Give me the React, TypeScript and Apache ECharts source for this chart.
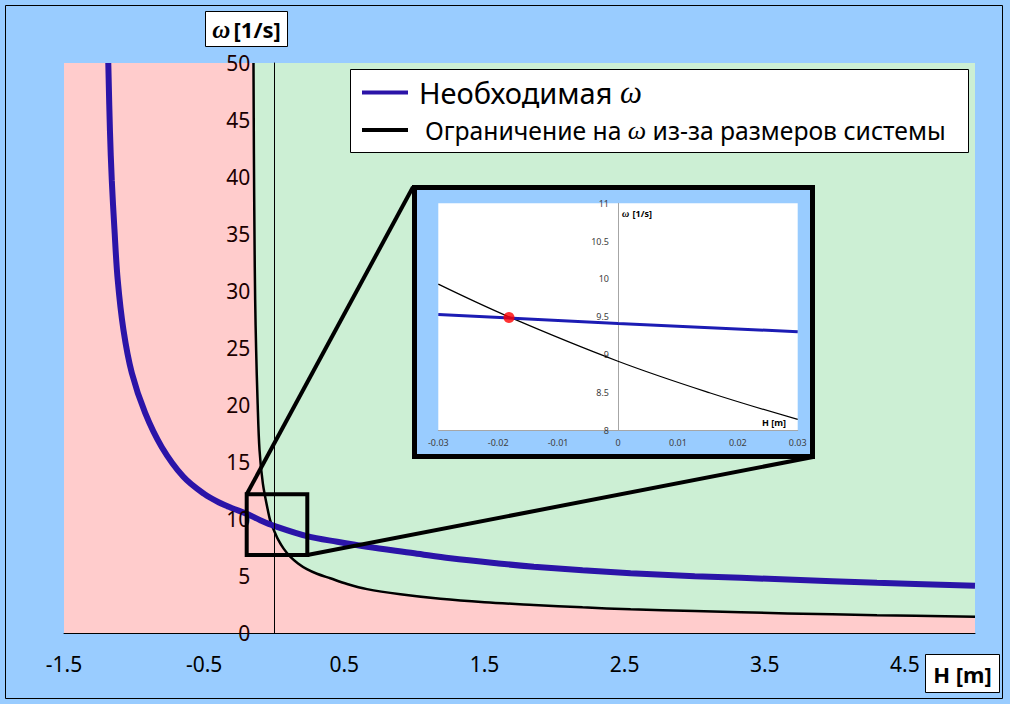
import React, { useEffect, useRef } from 'react';
import * as echarts from 'echarts';

// Main chart: required omega (blue)
const REQ_H = [-1.184, -1.172, -1.159, -1.14, -1.117, -1.076, -1.016, -0.921, -0.802, -0.648, -0.5, -0.386, -0.3, -0.195, -0.1, 0, 0.234, 0.45, 0.662, 1.0, 1.257, 1.6, 1.852, 2.2, 2.543, 3.0, 3.662, 4.3, 5.0];
const REQ_W = [50, 44, 39.7, 35.4, 31.0, 26.6, 22.8, 19.3, 16.3, 13.7, 12.2, 11.4, 10.95, 10.45, 9.9, 9.4, 8.5, 8.0, 7.57, 7.0, 6.55, 6.1, 5.82, 5.5, 5.25, 4.98, 4.7, 4.4, 4.15];

// Main chart: limit on omega (black)
const LIM_H = [-0.148, -0.145, -0.141, -0.136, -0.129, -0.119, -0.105, -0.081, -0.041, -0.03, -0.018, 0, 0.03, 0.067, 0.114, 0.17, 0.233, 0.305, 0.4, 0.52, 0.662, 0.9, 1.186, 1.5, 1.852, 2.2, 2.543, 3.0, 3.662, 4.3, 5.0];
const LIM_W = [50, 42, 35, 29.2, 24.8, 20.4, 16.05, 13.1, 10.5, 9.93, 9.49, 8.95, 8.14, 7.4, 6.7, 6.1, 5.6, 5.2, 4.8, 4.3, 3.85, 3.4, 3.0, 2.7, 2.46, 2.25, 2.08, 1.92, 1.72, 1.56, 1.43];

// Inset (zoom) chart
const INSET_REQ_H = [-0.03, 0, 0.03];
const INSET_REQ_W = [9.53, 9.41, 9.3];
const INSET_LIM_H = [-0.03, -0.018, 0, 0.0154, 0.03];
const INSET_LIM_W = [9.93, 9.49, 8.91, 8.49, 8.14];
const CROSS_H = [-0.0182];
const CROSS_W = [9.49];

const NAME_REQ = 'Необходимая ω';
const NAME_LIM = 'Ограничение на ω из-за размеров системы';

const zip = (a: number[], b: number[]) => a.map((v, i) => [v, b[i]]);

const SANS = 'Noto Sans';
const SERIF = 'Liberation Serif';

// main grid geometry
const G_LEFT = 64;
const G_WIDTH = 911;
const X_MIN = -1.5;
const X_MAX = 5;
// inset grid geometry
const IG_LEFT = 26.3;
const IG_WIDTH = 359.4;
const IX_MIN = -0.03;
const IX_MAX = 0.03;

export default function App() {
  const mainRef = useRef<HTMLDivElement>(null);
  const insetRef = useRef<HTMLDivElement>(null);

  useEffect(() => {
    const main = echarts.init(mainRef.current!, null, { renderer: 'svg' });
    const inset = echarts.init(insetRef.current!, null, { renderer: 'svg' });

    // shift the value axes so that they stand at H = 0
    const mainOffset = -((0 - X_MIN) / (X_MAX - X_MIN)) * G_WIDTH;
    const insetOffset = -((0 - IX_MIN) / (IX_MAX - IX_MIN)) * IG_WIDTH;

    main.setOption({
      animation: false,
      backgroundColor: '#99CCFF',
      grid: {
        left: G_LEFT, top: 63, width: G_WIDTH, height: 570,
        show: true, backgroundColor: '#FFCCCC', borderWidth: 0,
      },
      xAxis: {
        type: 'value', min: X_MIN, max: X_MAX, interval: 0.5, z: 5,
        axisLine: { show: true, onZero: false, lineStyle: { color: '#000', width: 1 } },
        axisTick: { show: false },
        splitLine: { show: false },
        axisLabel: {
          fontSize: 21, fontFamily: SANS, color: '#000', margin: 20,
          formatter: (v: number) => (Math.abs(Math.round(v * 2)) % 2 === 1 ? String(v) : ''),
        },
      },
      yAxis: {
        type: 'value', min: 0, max: 50, interval: 5, z: 5,
        position: 'left', offset: mainOffset,
        axisLine: { show: true, onZero: false, lineStyle: { color: '#000', width: 1 } },
        axisTick: { show: false },
        splitLine: { show: false },
        axisLabel: { fontSize: 21, fontFamily: SANS, color: '#1a0000', margin: 24 },
      },
      legend: [
        {
          data: [NAME_REQ], left: 362, top: 77, padding: 0,
          itemWidth: 46, itemHeight: 4, icon: 'rect', selectedMode: false,
          formatter: () => '{a|Необходимая }{ai|ω}',
          textStyle: {
            rich: {
              a: { fontSize: 29, fontFamily: SANS, color: '#000', lineHeight: 34, padding: [0, 0, 0, 6] },
              ai: { fontSize: 31, fontFamily: SERIF, fontStyle: 'italic', color: '#000', lineHeight: 34 },
            },
          },
        },
        {
          data: [NAME_LIM], left: 362, top: 117, padding: 0,
          itemWidth: 46, itemHeight: 4, icon: 'rect', selectedMode: false,
          formatter: () => '{p|}{b|Ограничение на }{bi|ω}{b| из-за размеров системы}',
          textStyle: {
            rich: {
              p: { width: 12, lineHeight: 28 },
              b: { fontSize: 24.7, fontFamily: SANS, color: '#000', lineHeight: 28 },
              bi: { fontSize: 26, fontFamily: SERIF, fontStyle: 'italic', color: '#000', lineHeight: 28 },
            },
          },
        },
      ],
      series: [
        {
          name: 'fill', type: 'line', data: zip(LIM_H, LIM_W), smooth: 0.35,
          showSymbol: false, silent: true, z: 1,
          lineStyle: { width: 0 },
          areaStyle: { color: '#CCEFD4', opacity: 1, origin: 'end' },
        },
        {
          name: NAME_LIM, type: 'line', data: zip(LIM_H, LIM_W), smooth: 0.35,
          showSymbol: false, z: 3,
          lineStyle: { color: '#000', width: 2.5 },
          itemStyle: { color: '#000' },
        },
        {
          name: NAME_REQ, type: 'line', data: zip(REQ_H, REQ_W), smooth: 0.35,
          showSymbol: false, z: 4,
          lineStyle: { color: '#2B14A8', width: 6 },
          itemStyle: { color: '#2B14A8' },
        },
      ],
      graphic: [
        {
          type: 'rect', z: 3, silent: true,
          shape: { x: 350.5, y: 69.5, width: 618, height: 83 },
          style: { fill: '#fff', stroke: '#000', lineWidth: 1 },
        },
        {
          type: 'rect', z: 100, silent: true,
          shape: { x: 246.7, y: 494.3, width: 60.6, height: 60.7 },
          style: { fill: 'none', stroke: '#000', lineWidth: 4 },
        },
        {
          type: 'line', z: 100, silent: true,
          shape: { x1: 246.7, y1: 494.3, x2: 413, y2: 187 },
          style: { stroke: '#000', lineWidth: 4 },
        },
        {
          type: 'line', z: 100, silent: true,
          shape: { x1: 307.3, y1: 555, x2: 813, y2: 457 },
          style: { stroke: '#000', lineWidth: 4 },
        },
        {
          type: 'group', z: 100,
          children: [
            {
              type: 'rect', silent: true,
              shape: { x: 205.5, y: 11.5, width: 82, height: 35 },
              style: { fill: '#fff', stroke: '#000', lineWidth: 1 },
            },
            {
              type: 'text', silent: true, x: 246.5, y: 29,
              style: {
                text: '{w|ω} {b|[1/s]}', align: 'center', verticalAlign: 'middle',
                rich: {
                  w: { fontSize: 25, fontFamily: SERIF, fontStyle: 'italic', fontWeight: 'bold', fill: '#000' },
                  b: { fontSize: 22, fontFamily: SANS, fontWeight: 'bold', fill: '#000' },
                },
              },
            },
          ],
        },
        {
          type: 'group', z: 100,
          children: [
            {
              type: 'rect', silent: true,
              shape: { x: 925.5, y: 654.5, width: 74, height: 38 },
              style: { fill: '#fff', stroke: '#000', lineWidth: 1 },
            },
            {
              type: 'text', silent: true, x: 962.5, y: 674,
              style: {
                text: 'H [m]', align: 'center', verticalAlign: 'middle',
                fontSize: 22, fontFamily: SANS, fontWeight: 'bold', fill: '#000',
              },
            },
          ],
        },
        {
          type: 'rect', z: 100, silent: true,
          shape: { x: 5.5, y: 5.5, width: 997, height: 693 },
          style: { fill: 'none', stroke: '#000', lineWidth: 1 },
        },
      ],
    });

    inset.setOption({
      animation: false,
      backgroundColor: '#99CCFF',
      grid: {
        left: IG_LEFT, top: 18.3, width: IG_WIDTH, height: 226.7,
        show: true, backgroundColor: '#fff', borderWidth: 0,
      },
      xAxis: {
        type: 'value', min: IX_MIN, max: IX_MAX, interval: 0.01,
        axisLine: { show: true, onZero: false, lineStyle: { color: '#a6a6a6', width: 1 } },
        axisTick: { show: false },
        splitLine: { show: false },
        axisLabel: {
          fontSize: 9, fontFamily: SANS, color: '#404040', margin: 8,
          formatter: (v: number) => (Math.abs(v) < 1e-9 ? '0' : String(Math.round(v * 100) / 100)),
        },
      },
      yAxis: {
        type: 'value', min: 8, max: 11, interval: 0.5,
        position: 'left', offset: insetOffset,
        axisLine: { show: true, onZero: false, lineStyle: { color: '#a6a6a6', width: 1 } },
        axisTick: { show: false },
        splitLine: { show: false },
        axisLabel: { fontSize: 9, fontFamily: SANS, color: '#404040', margin: 9 },
      },
      series: [
        {
          name: 'lim', type: 'line', data: zip(INSET_LIM_H, INSET_LIM_W), smooth: 0.4,
          showSymbol: false, z: 2,
          lineStyle: { color: '#000', width: 1.2 },
        },
        {
          name: 'req', type: 'line', data: zip(INSET_REQ_H, INSET_REQ_W),
          showSymbol: false, z: 3,
          lineStyle: { color: '#1C1CB4', width: 3 },
        },
        {
          name: 'cross', type: 'scatter', data: zip(CROSS_H, CROSS_W), z: 4,
          symbolSize: 11, itemStyle: { color: '#FF0000' },
        },
      ],
      graphic: [
        {
          type: 'rect', z: 100, silent: true,
          shape: { x: 2.5, y: 2.5, width: 398, height: 269 },
          style: { fill: 'none', stroke: '#000', lineWidth: 5 },
        },
        {
          type: 'text', z: 100, silent: true, x: 210, y: 28,
          style: {
            text: '{w|ω} {b|[1/s]}', align: 'left', verticalAlign: 'middle',
            rich: {
              w: { fontSize: 10, fontFamily: SERIF, fontStyle: 'italic', fontWeight: 'bold', fill: '#000' },
              b: { fontSize: 9, fontFamily: SANS, fontWeight: 'bold', fill: '#000' },
            },
          },
        },
        {
          type: 'text', z: 100, silent: true, x: 350, y: 237,
          style: {
            text: 'H [m]', align: 'left', verticalAlign: 'middle',
            fontSize: 9, fontFamily: SANS, fontWeight: 'bold', fill: '#000',
          },
        },
      ],
    });

    return () => {
      main.dispose();
      inset.dispose();
    };
  }, []);

  return (
    <div style={{ position: 'absolute', left: 0, top: 0, width: 1010, height: 704 }}>
      <div ref={mainRef} style={{ position: 'absolute', left: 0, top: 0, width: 1010, height: 704 }} />
      <div ref={insetRef} style={{ position: 'absolute', left: 412, top: 185, width: 403, height: 274 }} />
    </div>
  );
}
